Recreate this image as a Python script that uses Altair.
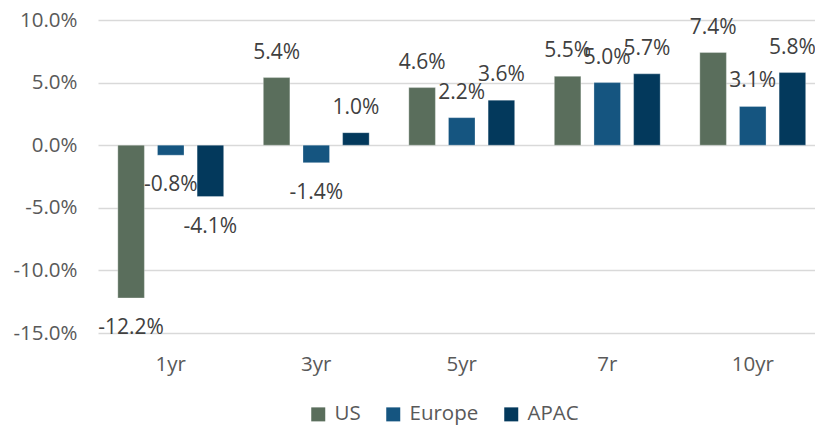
import altair as alt
import pandas as pd

periods = ["1yr", "3yr", "5yr", "7r", "10yr"]
regions = ["US", "Europe", "APAC"]
us = [-12.2, 5.4, 4.6, 5.5, 7.4]
europe = [-0.8, -1.4, 2.2, 5.0, 3.1]
apac = [-4.1, 1.0, 3.6, 5.7, 5.8]
colors = ["#5a6e5c", "#155580", "#03395c"]
y_ticks = [-15, -10, -5, 0, 5, 10]

rows = []
for r, vals in zip(regions, [us, europe, apac]):
    for p, v in zip(periods, vals):
        rows.append({"period": p, "region": r, "value": v})
df = pd.DataFrame(rows)

FONT = "Open Sans"
FMT = "replace(format(datum.value, '.1f'), '\u2212', '-') + '%'"

x = alt.X(
    "period:N", sort=periods,
    scale=alt.Scale(range=[0, 727.5], paddingInner=0, paddingOuter=0),
    axis=alt.Axis(title=None, domain=False, ticks=False, labelFontSize=20.5,
                  labelColor="#595959", labelPadding=21, labelAngle=0, labelFont=FONT),
)
xo = alt.XOffset("region:N", sort=regions,
                 scale=alt.Scale(paddingInner=0.33, paddingOuter=0.5))
y = alt.Y(
    "value:Q",
    scale=alt.Scale(domain=[-15, 10], nice=False),
    axis=alt.Axis(title=None, values=y_ticks, labelExpr=FMT,
                  domain=False, ticks=False, gridColor="#d9d9d9", gridWidth=1.5,
                  labelFontSize=20.5, labelColor="#595959", labelPadding=21, labelFont=FONT),
)
color = alt.Color(
    "region:N", sort=regions,
    scale=alt.Scale(domain=regions, range=colors),
    legend=alt.Legend(title=None, orient="none", direction="horizontal",
                      legendX=210, legendY=384, symbolType="square", symbolSize=196,
                      symbolStrokeWidth=0, labelFontSize=20.5, labelColor="#595959",
                      labelFont=FONT, columnPadding=22, labelOffset=6),
)

base = alt.Chart(df).encode(x=x, xOffset=xo, y=y)

bars = base.mark_bar(stroke="#ffffff", strokeWidth=0.6, strokeOpacity=0.5).encode(color=color)

txt = base.transform_calculate(label=FMT)
pos = txt.transform_filter("datum.value >= 0").mark_text(
    font=FONT, fontSize=21, color="#404040", baseline="middle", dy=-25
).encode(text="label:N")
neg = txt.transform_filter("datum.value < 0").mark_text(
    font=FONT, fontSize=21, color="#404040", baseline="middle", dy=30
).encode(text="label:N")

chart = alt.layer(bars, pos, neg).properties(
    width=717, height=313,
    autosize=alt.AutoSizeParams(type="none"),
    padding={"left": 90, "top": 12, "right": 0, "bottom": 93},
    background="white",
).configure_view(stroke=None)

chart.save("out.html", embed_options={"renderer": "svg", "actions": False})
